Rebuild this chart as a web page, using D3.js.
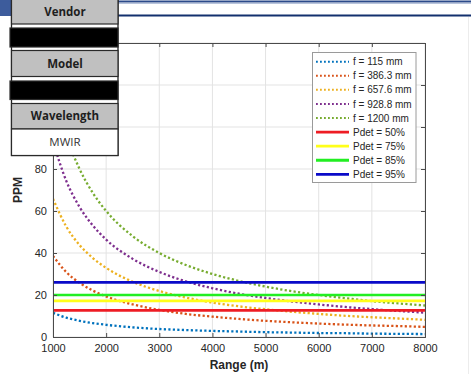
<!DOCTYPE html>
<html>
<head>
<meta charset="utf-8">
<script src="https://cdn.jsdelivr.net/npm/d3@7"></script>
<style>
  body { margin: 0; background: #fff; }
  svg { display: block; font-family: "Liberation Sans", Arial, sans-serif; }
</style>
</head>
<body>
<svg id="chart" width="471" height="374"></svg>
<script>
const ranges = [1000, 1250, 1500, 1750, 2000, 2500, 3000, 3500, 4000, 4500, 5000, 5500, 6000, 6500, 7000, 7500, 8000];

const f115 = [11.5, 9.2, 7.7, 6.6, 5.8, 4.6, 3.8, 3.3, 2.9, 2.6, 2.3, 2.1, 1.9, 1.8, 1.6, 1.5, 1.4];
const f386 = [38.6, 30.9, 25.8, 22.1, 19.3, 15.5, 12.9, 11.0, 9.7, 8.6, 7.7, 7.0, 6.4, 5.9, 5.5, 5.2, 4.8];
const f658 = [65.8, 52.6, 43.8, 37.6, 32.9, 26.3, 21.9, 18.8, 16.4, 14.6, 13.2, 12.0, 11.0, 10.1, 9.4, 8.8, 8.2];
const f929 = [92.9, 74.3, 61.9, 53.1, 46.4, 37.2, 31.0, 26.5, 23.2, 20.6, 18.6, 16.9, 15.5, 14.3, 13.3, 12.4, 11.6];
const f1200 = [120, 96, 80, 68.6, 60, 48, 40, 34.3, 30, 26.7, 24, 21.8, 20, 18.5, 17.1, 16, 15];

const curveNames = ["f = 115 mm", "f = 386.3 mm", "f = 657.6 mm", "f = 928.8 mm", "f = 1200 mm"];
const curveValues = [f115, f386, f658, f929, f1200];
const curveColors = ["#0072bd", "#d95319", "#edb120", "#7e2f8e", "#77ac30"];

const pdetNames = ["Pdet = 50%", "Pdet = 75%", "Pdet = 85%", "Pdet = 95%"];
const pdetValues = [12.7, 17.2, 20.0, 26.0];
const pdetColors = ["#ee1c24", "#ffff1a", "#22ee22", "#0a0ac8"];

const xTicks = [1000, 2000, 3000, 4000, 5000, 6000, 7000, 8000];
const yTicks = [0, 20, 40, 60, 80, 100, 120, 140];
// labels above 80 sit behind the spec table, so they are not shown
const yLabelMax = 80;

const tableRows = ["Vendor", "", "Model", "", "Wavelength", "MWIR"];

const svg = d3.select("#chart");
const plotLeft = 53, plotRight = 425, plotTop = 43, plotBottom = 337;

const x = d3.scaleLinear().domain([1000, 8000]).range([plotLeft, plotRight]);
const y = d3.scaleLinear().domain([0, 140]).range([plotBottom, plotTop]);

svg.append("rect").attr("width", 471).attr("height", 374).attr("fill", "#fff");

// header decoration
svg.append("rect").attr("x", 0).attr("y", 0).attr("width", 12).attr("height", 16).attr("fill", "#3d5c9c");
svg.append("line").attr("x1", 118).attr("x2", 471).attr("y1", 1.5).attr("y2", 1.5).attr("stroke", "#2c4a8a").attr("stroke-width", 2);
svg.append("line").attr("x1", 118).attr("x2", 471).attr("y1", 3.5).attr("y2", 3.5).attr("stroke", "#b8c4dc").attr("stroke-width", 1);
svg.append("line").attr("x1", 118).attr("x2", 471).attr("y1", 15.5).attr("y2", 15.5).attr("stroke", "#13306e").attr("stroke-width", 2);
svg.append("line").attr("x1", 468.5).attr("x2", 468.5).attr("y1", 17).attr("y2", 374).attr("stroke", "#ececec").attr("stroke-width", 1);

// grid
svg.append("g")
  .selectAll("line")
  .data(xTicks)
  .join("line")
  .attr("x1", (d) => x(d)).attr("x2", (d) => x(d))
  .attr("y1", plotTop).attr("y2", plotBottom)
  .attr("stroke", "#e3e3e3");
svg.append("g")
  .selectAll("line")
  .data(yTicks)
  .join("line")
  .attr("x1", plotLeft).attr("x2", plotRight)
  .attr("y1", (d) => y(d)).attr("y2", (d) => y(d))
  .attr("stroke", "#e3e3e3");

svg.append("defs").append("clipPath").attr("id", "plot-clip")
  .append("rect").attr("x", plotLeft).attr("y", plotTop)
  .attr("width", plotRight - plotLeft).attr("height", plotBottom - plotTop);

const line = d3.line()
  .x((_, i) => x(ranges[i]))
  .y((d) => y(d))
  .curve(d3.curveMonotoneX);

const plot = svg.append("g").attr("clip-path", "url(#plot-clip)");

plot.selectAll("path.curve")
  .data(curveValues)
  .join("path")
  .attr("class", "curve")
  .attr("d", line)
  .attr("fill", "none")
  .attr("stroke", (_, i) => curveColors[i])
  .attr("stroke-width", 2.3)
  .attr("stroke-dasharray", "2.2 2.3");

plot.selectAll("line.pdet")
  .data(pdetValues)
  .join("line")
  .attr("class", "pdet")
  .attr("x1", x(1000)).attr("x2", x(8000))
  .attr("y1", (d) => y(d)).attr("y2", (d) => y(d))
  .attr("stroke", (_, i) => pdetColors[i])
  .attr("stroke-width", 2.6);

// axes (box with inward ticks)
const axisColor = "#4a4a4a";
const xAxis = svg.append("g").attr("transform", `translate(0,${plotBottom})`)
  .call(d3.axisBottom(x).tickValues(xTicks).tickSize(-4).tickPadding(7).tickFormat(d3.format("d")));
const xAxisTop = svg.append("g").attr("transform", `translate(0,${plotTop})`)
  .call(d3.axisTop(x).tickValues(xTicks).tickSize(-4).tickFormat(""));
const yAxis = svg.append("g").attr("transform", `translate(${plotLeft},0)`)
  .call(d3.axisLeft(y).tickValues(yTicks).tickSize(-4).tickPadding(6)
    .tickFormat((d) => (d <= yLabelMax ? String(d) : "")));
const yAxisRight = svg.append("g").attr("transform", `translate(${plotRight},0)`)
  .call(d3.axisRight(y).tickValues(yTicks).tickSize(-4).tickFormat(""));

[xAxis, xAxisTop, yAxis, yAxisRight].forEach((g) => {
  g.select(".domain").attr("stroke", axisColor);
  g.selectAll(".tick line").attr("stroke", axisColor);
  g.selectAll(".tick text").attr("fill", "#262626").attr("font-size", 11)
    .attr("font-family", "Liberation Sans, Arial, sans-serif");
});

svg.append("text")
  .attr("x", (plotLeft + plotRight) / 2).attr("y", 369)
  .attr("text-anchor", "middle")
  .attr("font-size", 12).attr("font-weight", "bold").attr("fill", "#262626")
  .text("Range (m)");

svg.append("text")
  .attr("transform", `translate(22,${(plotTop + plotBottom) / 2}) rotate(-90)`)
  .attr("text-anchor", "middle")
  .attr("font-size", 12).attr("font-weight", "bold").attr("fill", "#262626")
  .text("PPM");

// legend
const legend = svg.append("g");
legend.append("rect")
  .attr("x", 312.5).attr("y", 52.5).attr("width", 103.5).attr("height", 130)
  .attr("fill", "#fff").attr("stroke", "#9a9a9a");

const legendItems = curveNames.map((name, i) => ({ name, color: curveColors[i], dotted: true }))
  .concat(pdetNames.map((name, i) => ({ name, color: pdetColors[i], dotted: false })));

const rows = legend.selectAll("g.item")
  .data(legendItems)
  .join("g")
  .attr("class", "item")
  .attr("transform", (_, i) => `translate(0,${61.7 + i * 14.08})`);

rows.append("line")
  .attr("x1", 316).attr("x2", 349)
  .attr("stroke", (d) => d.color)
  .attr("stroke-width", (d) => (d.dotted ? 2 : 2.8))
  .attr("stroke-dasharray", (d) => (d.dotted ? "1.8 2.2" : null));

rows.append("text")
  .attr("x", 353).attr("y", 3.6)
  .attr("font-size", 10).attr("fill", "#262626")
  .text((d) => d.name);

// spec table overlay
const table = svg.append("g").attr("font-family", "Open Sans, Noto Sans, sans-serif");
table.append("rect")
  .attr("x", 11.5).attr("y", -1).attr("width", 106.5).attr("height", 156.5)
  .attr("fill", "#fff").attr("stroke", "#222").attr("stroke-width", 1.3);

const cellTops = [-1, 28, 50.5, 81, 103.5, 129];
const cellHeights = [25, 19, 26, 18.5, 25.5, 26.5];

table.selectAll("rect.cell")
  .data(tableRows)
  .join("rect")
  .attr("class", "cell")
  .attr("x", (d) => (d === "" ? 10 : 11.5))
  .attr("y", (_, i) => cellTops[i])
  .attr("width", (d) => (d === "" ? 108 : 106.5))
  .attr("height", (_, i) => cellHeights[i])
  .attr("fill", (d) => (d === "" ? "#000" : d === "MWIR" ? "#fff" : "#c0c0c0"))
  .attr("stroke", "#2a2a2a")
  .attr("stroke-width", 1.2);

table.selectAll("text.cell")
  .data(tableRows)
  .join("text")
  .attr("class", "cell")
  .attr("x", 65)
  .attr("y", (_, i) => cellTops[i] + cellHeights[i] / 2 + 4)
  .attr("text-anchor", "middle")
  .attr("font-size", 11.5)
  .attr("font-weight", (d) => (d === "MWIR" ? "normal" : "bold"))
  .attr("fill", (d) => (d === "MWIR" ? "#333" : "#1e1e1e"))
  .text((d) => d);
</script>
</body>
</html>
